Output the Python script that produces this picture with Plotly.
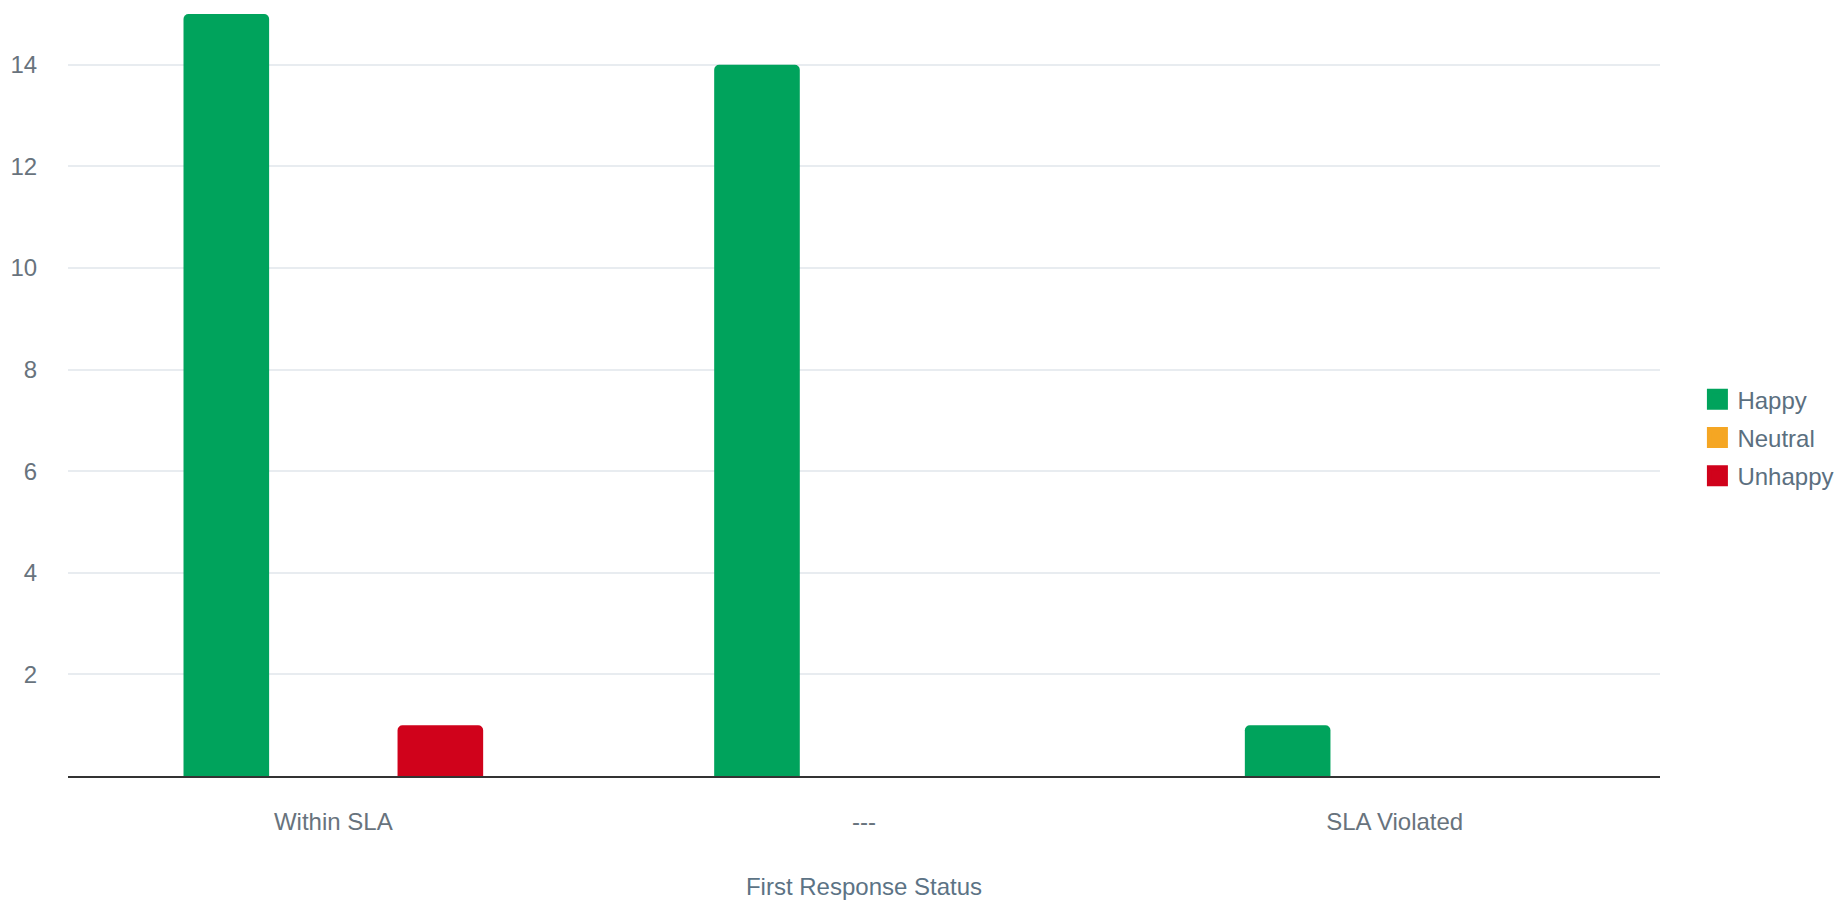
import plotly.graph_objects as go

categories = ["Within SLA", "---", "SLA Violated"]
happy = [15, 14, 1]
neutral = [0, 0, 0]
unhappy = [1, 0, 0]
series_names = ["Happy", "Neutral", "Unhappy"]
colors = ["#00A35C", "#F5A623", "#D0021B"]
y_ticks = [2, 4, 6, 8, 10, 12, 14]

fig = go.Figure()
for name, vals, col in zip(series_names, [happy, neutral, unhappy], colors):
    fig.add_trace(go.Bar(
        x=categories, y=vals, name=name, legendgroup=name,
        marker=dict(color=col, cornerradius=5, line=dict(width=0)),
        showlegend=False,
    ))
    fig.add_trace(go.Scatter(
        x=[None], y=[None], mode="markers", name=name, legendgroup=name,
        marker=dict(symbol="square", size=16, color=col, line=dict(color=col, width=5)),
        showlegend=True,
    ))

fig.update_layout(
    width=1845, height=908,
    margin=dict(l=60, r=193, t=6, b=140, autoexpand=False),
    paper_bgcolor="white", plot_bgcolor="white",
    barmode="group", bargap=0.395, bargroupgap=0.2,
    font=dict(family="Liberation Sans, Arial, sans-serif", size=24, color="#68737D"),
    legend=dict(
        x=1.0235, xanchor="left", y=0.444, yanchor="middle",
        xref="paper",
        font=dict(size=24, color="#5B6F80"),
        itemsizing="trace",
        tracegroupgap=4,
        bgcolor="rgba(0,0,0,0)",
    ),
    xaxis=dict(
        automargin=False,
        showgrid=False, showline=True, linecolor="#333333", linewidth=2,
        ticks="outside", ticklen=23, tickcolor="rgba(0,0,0,0)",
        tickfont=dict(size=24, color="#68737D"),
        title=dict(text="First Response Status", font=dict(size=24, color="#5C7385"), standoff=44),
    ),
    yaxis=dict(
        automargin=False,
        range=[0, 15], tickvals=y_ticks,
        showgrid=True, gridcolor="#E8ECF0", gridwidth=2,
        zeroline=False, showline=False,
        ticks="outside", ticklen=25, tickcolor="rgba(0,0,0,0)",
        tickfont=dict(size=24, color="#68737D"),
    ),
)

fig.write_html("out.html")
